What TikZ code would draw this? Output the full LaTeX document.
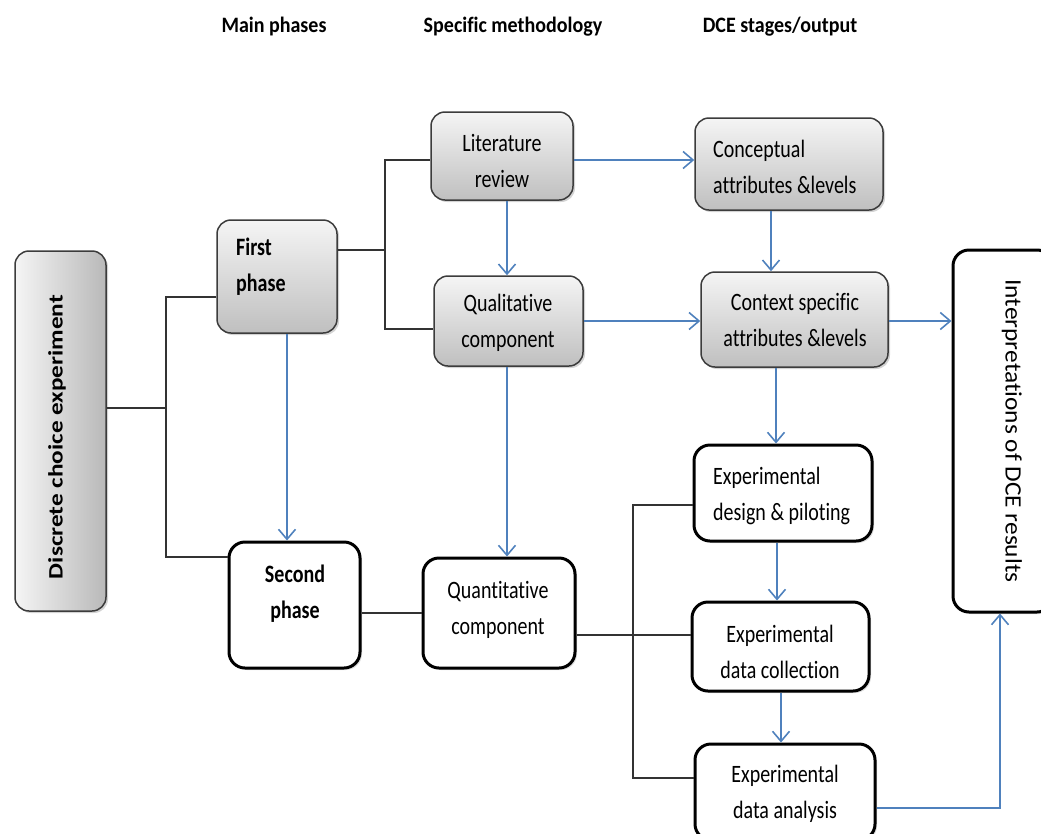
\documentclass[tikz,border=0pt]{standalone}
\usepackage{fontspec}
\setmainfont{Carlito}[Ligatures=CommonOff]
\newfontfamily\bodyfont{Carlito}[FakeStretch=0.8,Ligatures=CommonOff]
\newfontfamily\hdrfont{Carlito}[FakeStretch=0.91,Ligatures=CommonOff]
\newfontfamily\interpfont{Carlito}[FakeStretch=1.08,Ligatures=CommonOff]
\newfontfamily\dcefont{Carlito}[FakeStretch=1.23,Ligatures=CommonOff]
\usetikzlibrary{arrows.meta,shadows}
\definecolor{arrblue}{RGB}{79,129,189}
\definecolor{boxedge}{RGB}{60,60,60}
\tikzset{
  graybox/.style={draw=boxedge, line width=1.5pt, rounded corners=14pt, top color=gray!8, bottom color=gray!50,
    drop shadow={opacity=0.35, shadow xshift=2pt, shadow yshift=-2pt}},
  whitebox/.style={draw=black, line width=3pt, rounded corners=16pt, fill=white,
    drop shadow={opacity=0.25, shadow xshift=2pt, shadow yshift=-2pt}},
  lbl/.style={inner sep=0pt, font=\bodyfont\fontsize{25}{36}\selectfont},
  blbl/.style={inner sep=0pt, font=\bodyfont\fontsize{25}{36}\selectfont\bfseries},
  hdr/.style={inner sep=0pt, font=\hdrfont\fontsize{22}{26}\selectfont\bfseries},
  link/.style={draw=black!80, line width=1.2pt},
  flow/.style={draw=arrblue, line width=1.6pt, -{Straight Barb[length=10pt,width=17pt,line width=1.6pt]}},
}
\begin{document}
\begin{tikzpicture}[x=1pt,y=-1pt]
\useasboundingbox (0,0) rectangle (1041,833);
% headers
\node[hdr] (h1) at (274,27) {Main phases};
\node[hdr] (h2) at (513,27) {Specific methodology};
\node[hdr] (h3) at (780,27) {DCE stages/output};
% boxes
\node[graybox, left color=gray!8, right color=gray!55, minimum width=91, minimum height=360] (dce) at (60.5,431) {};
\node[inner sep=0pt, font=\dcefont\fontsize{20.5}{24}\selectfont\bfseries, rotate=90] (dceT) at (57,437) {Discrete choice experiment};
\node[graybox, minimum width=120, minimum height=113] (first) at (277,276.5) {};
\node[blbl, align=left, anchor=west] (firstT) at (236,267) {First\\phase};
\node[whitebox, minimum width=131, minimum height=126] (second) at (294.5,605) {};
\node[blbl, align=center] (secondT) at (295,594) {Second\\phase};
\node[graybox, minimum width=142, minimum height=88] (lit) at (502,156) {};
\node[lbl, align=center] (litT) at (502,161) {Literature\\review};
\node[graybox, minimum width=149, minimum height=90] (qual) at (508.5,321) {};
\node[lbl, align=center] (qualT) at (508,323) {Qualitative\\component};
\node[whitebox, minimum width=152, minimum height=110] (quant) at (499,613) {};
\node[lbl, align=center] (quantT) at (498,610) {Quantitative\\component};
\node[graybox, minimum width=188, minimum height=92] (concept) at (789,164) {};
\node[lbl, align=left, anchor=west] (conceptT) at (713,167) {Conceptual\\attributes \&levels};
\node[graybox, minimum width=187, minimum height=95] (context) at (794.5,319.5) {};
\node[lbl, align=center] (contextT) at (795,320) {Context specific\\attributes \&levels};
\node[whitebox, minimum width=100, minimum height=362] (interp) at (1003,431) {};
\node[inner sep=0pt, font=\interpfont\fontsize{23.5}{28}\selectfont, rotate=-90] (interpT) at (1012,431) {Interpretations of DCE results};
\node[whitebox, minimum width=178, minimum height=96] (design) at (783,493) {};
\node[lbl, align=left, anchor=west] (designT) at (713,496) {Experimental\\design \& piloting};
\node[whitebox, minimum width=177, minimum height=89] (collect) at (780.5,646.5) {};
\node[lbl, align=center] (collectT) at (780,652) {Experimental\\data collection};
\node[whitebox, minimum width=180, minimum height=96] (analysis) at (785,792) {};
\node[lbl, align=center] (analysisT) at (785,794) {Experimental\\data analysis};
% black links
\coordinate (j1) at (166,408);
\draw[link] (dce.east |- j1) -- (j1);
\draw[link] (first.west |- 0,297) -| (j1) |- (second.west |- 0,557);
\coordinate (j2) at (385,250);
\draw[link] (first.east |- j2) -- (j2);
\draw[link] (lit.west |- 0,160) -| (j2) |- (qual.west |- 0,329);
\draw[link] (second.east |- 0,613) -- (quant.west |- 0,613);
\coordinate (j3) at (633,635);
\draw[link] (quant.east |- j3) -- (j3);
\draw[link] (design.west |- 0,505) -| (j3) |- (analysis.west |- 0,778);
\draw[link] (j3) -- (collect.west |- j3);
% blue arrows
\draw[flow] (first.south -| 287,0) -- (second.north -| 287,0);
\draw[flow] (lit.south -| 507,0) -- (qual.north -| 507,0);
\draw[flow] (lit.east |- 0,160) -- (concept.west |- 0,160);
\draw[flow] (qual.south -| 507,0) -- (quant.north -| 507,0);
\draw[flow] (qual.east |- 0,321) -- (context.west |- 0,321);
\draw[flow] (concept.south -| 771,0) -- (context.north -| 771,0);
\draw[flow] (context.east |- 0,321) -- (interp.west |- 0,321);
\draw[flow] (context.south -| 776,0) -- (design.north -| 776,0);
\draw[flow] (design.south -| 777,0) -- (collect.north -| 777,0);
\draw[flow] (collect.south -| 781,0) -- (analysis.north -| 781,0);
\draw[flow] (analysis.east |- 0,808) -| (interp.south -| 1000,0);
\end{tikzpicture}
\end{document}
